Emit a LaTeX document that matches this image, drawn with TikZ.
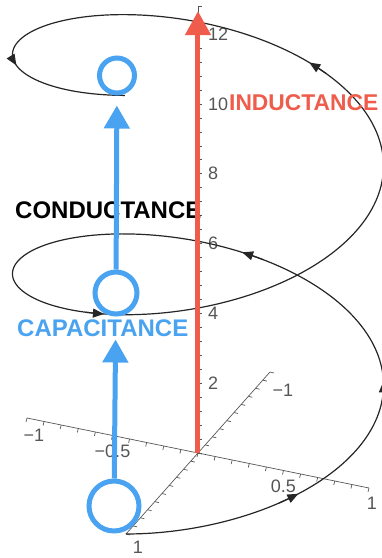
\documentclass[tikz,border=0pt]{standalone}
\usepackage{fontspec}
\setmainfont{Liberation Sans}
\usetikzlibrary{arrows.meta}
\definecolor{capblue}{RGB}{74,163,240}
\definecolor{indred}{RGB}{240,92,75}
\definecolor{axisgray}{RGB}{85,85,85}

\begin{document}
\begin{tikzpicture}[x={(-72pt,-81pt)}, y={(171pt,-35pt)}, z={(0pt,34.9pt)},
	axisline/.style={axisgray, line width=0.7pt},
	ticklabel/.style={text=axisgray, font=\fontsize{18}{18}\selectfont, inner sep=0pt},
	helixline/.style={black!85, line width=1.2pt},
	helixtip/.style={helixline, -{Triangle[length=11pt,width=9pt]}},
	loopnode/.style={circle, draw=capblue, line width=5pt, inner sep=0pt},
	bluearrow/.style={capblue, line width=5pt, -{Triangle[length=23pt,width=25pt]}},
	redarrow/.style={indred, line width=5pt, -{Triangle[length=24pt,width=25pt]}},
	biglabel/.style={font=\fontsize{24}{24}\selectfont\bfseries, inner sep=0pt, anchor=west}]
	\useasboundingbox (-198pt,-105pt) rectangle (184pt,453pt);
	
	% 1. 坐标轴与刻度 (最底层)
	\coordinate (O) at (0,0,0);
	\draw[axisline] (-1,0,0) -- (1,0,0);
	\draw[axisline] (0,-1,0) -- (0,1,0);
	\draw[axisline] (O) -- (0,0,12.8);
	\foreach \i in {-10,...,10} {
		\draw[axisline] (\i/10,0,0) -- ++(4pt,-1pt);
		\draw[axisline] (0,\i/10,0) -- ++(-1pt,-4pt);
	}
	\foreach \i in {0,...,32} \draw[axisline] (0,0,\i*0.4) -- ++(4pt,0pt);
	
	% 刻度标签
	\foreach \z in {2,4,...,12} \node[ticklabel, anchor=west, xshift=10pt] (zl\z) at (0,0,\z) {\z};
	\node[ticklabel, xshift=7pt, yshift=-17pt] (yla) at (0,-1,0) {−1};
	\node[ticklabel, yshift=-16pt] (ylb) at (0,-0.5,0) {−0.5};
	\node[ticklabel, yshift=-16pt] (ylc) at (0,0.5,0) {0.5};
	\node[ticklabel, xshift=3pt, yshift=-15pt] (yld) at (0,1,0) {1};
	\node[ticklabel, xshift=13pt, yshift=-18pt] (xla) at (-1,0,0) {−1};
	\node[ticklabel, xshift=12pt, yshift=-13pt] (xlb) at (1,0,0) {1};
	
	% 2. 螺旋线及方向箭头
	\draw[helixline] plot[domain=0:12.566, samples=400, variable=\t] ({cos(\t r)}, {sin(\t r)}, {\t});
	\foreach \t [evaluate=\t as \ts using \t-0.12] in {0.97,2.0,3.3,6.15,9.18,11.6}
		\draw[helixtip] plot[domain=\ts:\t, samples=3, variable=\s] ({cos(\s r)}, {sin(\s r)}, {\s});
	
	% 3. 文字标签 (线条压在上面)
	\node[biglabel, text=indred, font=\fontsize{22.8}{23}\selectfont\bfseries] (ind) at (31pt,350pt) {INDUCTANCE};
	\node[biglabel] (cond) at (-183pt,243pt) {CONDUCTANCE};
	\node[biglabel, text=capblue] (cap) at (-181pt,125pt) {CAPACITANCE};
	
	% 4. 红色箭头
	\coordinate (top) at (0,0,12.66);
	\draw[redarrow] (O) -- (top);
	
	% 5. 蓝色圆圈与箭头
	\node[loopnode, minimum size=50pt] (c1) at (-84pt,-53pt) {};
	\node[loopnode, minimum size=42pt] (c2) at (-82pt,160pt) {};
	\node[loopnode, minimum size=35pt] (c3) at (-81pt,377.5pt) {};
	\draw[bluearrow, shorten >=23pt] (c1) -- (c2);
	\draw[bluearrow, shorten >=10pt] (c2) -- (c3);
\end{tikzpicture}
\end{document}
